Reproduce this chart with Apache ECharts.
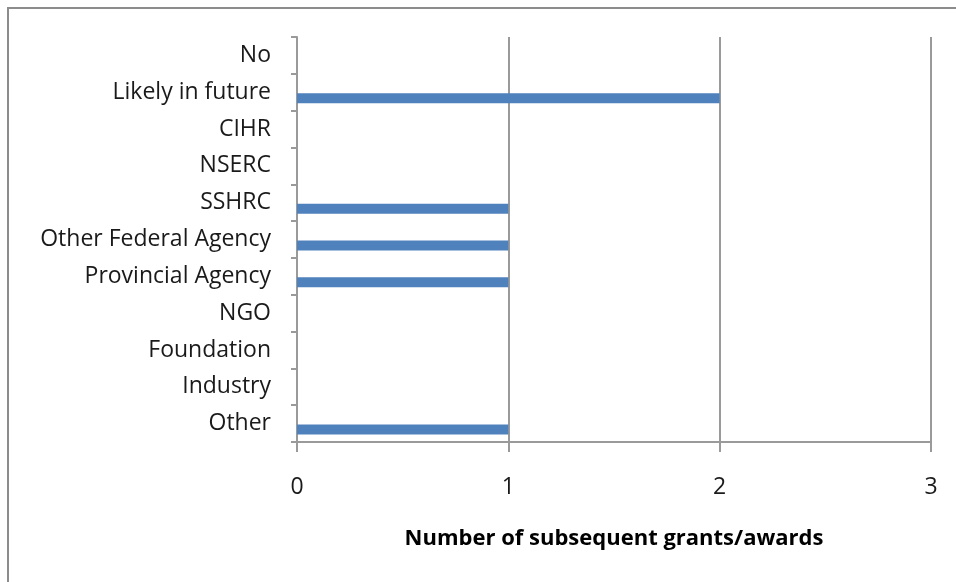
<!DOCTYPE html>
<html>
<head>
<meta charset="utf-8">
<script src="https://cdn.jsdelivr.net/npm/echarts@6/dist/echarts.min.js"></script>
<style>
  html, body { margin: 0; padding: 0; background: #ffffff; }
  #chart { width: 956px; height: 582px; }
</style>
</head>
<body>
<div id="chart"></div>
<script>
// Funding sources, listed top to bottom
const categories = [
  'No', 'Likely in future', 'CIHR', 'NSERC', 'SSHRC',
  'Other Federal Agency', 'Provincial Agency', 'NGO',
  'Foundation', 'Industry', 'Other'
];
// Number of subsequent grants/awards per source
const grantCounts = [0, 2, 0, 0, 1, 1, 1, 0, 0, 0, 1];
// Value axis ticks
const xTicks = [0, 1, 2, 3];
const axisTitle = 'Number of subsequent grants/awards';

const FONT = '"Open Sans", "Liberation Sans", Arial, sans-serif';
const chart = echarts.init(document.getElementById('chart'), null, { renderer: 'canvas' });

chart.setOption({
  animation: false,
  backgroundColor: '#ffffff',
  graphic: [{
    type: 'rect',
    shape: { x: 8, y: 8, width: 1200, height: 1200 },
    style: { fill: 'none', stroke: '#8c8c8c', lineWidth: 2 },
    silent: true
  }],
  grid: { left: 297, right: 25, top: 37, bottom: 140, containLabel: false },
  xAxis: {
    type: 'value',
    min: xTicks[0],
    max: xTicks[xTicks.length - 1],
    interval: 1,
    name: axisTitle,
    nameLocation: 'middle',
    nameGap: 86,
    nameTextStyle: { fontFamily: FONT, fontSize: 22, fontWeight: 'bold', color: '#000000' },
    axisLine: { show: true, lineStyle: { color: '#9a9a9a', width: 2 } },
    axisTick: { show: true, length: 10, lineStyle: { color: '#9a9a9a', width: 2 } },
    axisLabel: { fontFamily: FONT, fontSize: 23, color: '#1a1a1a', margin: 34 },
    splitLine: { show: true, lineStyle: { color: '#9a9a9a', width: 2 } }
  },
  yAxis: {
    type: 'category',
    data: categories,
    inverse: true,
    axisLine: { show: true, lineStyle: { color: '#9a9a9a', width: 2 } },
    axisTick: { show: true, length: 6, alignWithLabel: false, lineStyle: { color: '#9a9a9a', width: 2 } },
    axisLabel: { fontFamily: FONT, fontSize: 23, color: '#1a1a1a', margin: 26, padding: [4, 0, 0, 0] },
    splitLine: { show: false }
  },
  series: [
    {
      type: 'bar',
      name: 'spacer',
      data: categories.map(() => null),
      barWidth: 10,
      barGap: '20%',
      silent: true
    },
    {
      type: 'bar',
      name: 'Grants',
      data: grantCounts,
      barWidth: 10,
      barGap: '20%',
      itemStyle: { color: '#4f81bd' }
    }
  ]
});
</script>
</body>
</html>
